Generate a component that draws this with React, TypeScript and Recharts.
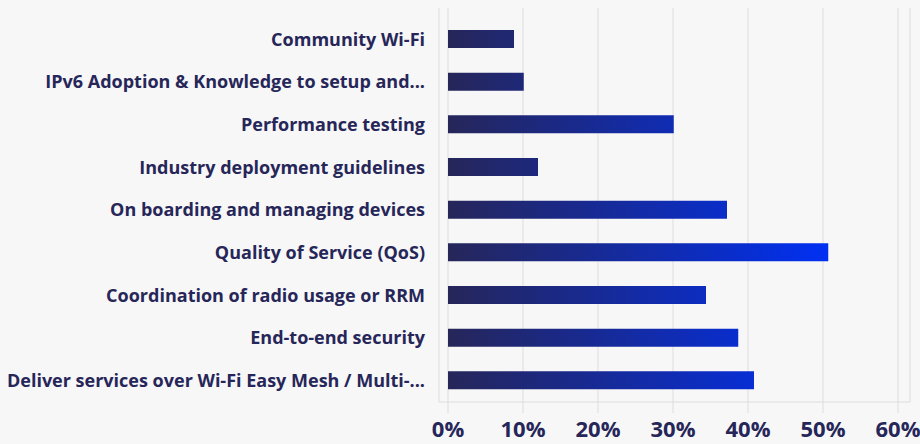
import { BarChart, Bar, XAxis, YAxis, CartesianGrid } from "recharts";

const categories = [
  "Community Wi-Fi",
  "IPv6 Adoption & Knowledge to setup and...",
  "Performance testing",
  "Industry deployment guidelines",
  "On boarding and managing devices",
  "Quality of Service (QoS)",
  "Coordination of radio usage or RRM",
  "End-to-end security",
  "Deliver services over Wi-Fi Easy Mesh / Multi-...",
];
const shares = [8.8, 10.1, 30.1, 12.0, 37.2, 50.7, 34.4, 38.7, 40.8];
const xTicks = [0, 10, 20, 30, 40, 50, 60];

const data = categories.map((name, i) => ({ name, value: shares[i] }));

const INK = "#262659";
const GRID = "#dddddd";
const FONT = "'Open Sans', sans-serif";

export default function App() {
  return (
    <div style={{ position: "fixed", top: 0, left: 0, width: 920, height: 444, background: "#f7f7f7" }}>
      <BarChart
        width={920}
        height={444}
        data={data}
        layout="vertical"
        margin={{ top: 8, right: 10, left: 0, bottom: 0 }}
      >
        <defs>
          <linearGradient id="barFill" gradientUnits="userSpaceOnUse" x1={448} y1={0} x2={828} y2={0}>
            <stop offset="0%" stopColor="#262659" />
            <stop offset="100%" stopColor="#0030f2" />
          </linearGradient>
        </defs>
        <CartesianGrid horizontal={false} stroke={GRID} />
        <XAxis
          type="number"
          domain={[0, 60]}
          ticks={xTicks}
          tickFormatter={(v) => `${v}%`}
          padding={{ left: 9, right: 12 }}
          height={42}
          stroke={GRID}
          tickSize={11}
          tickMargin={8}
          tick={{ fontSize: 22, fontWeight: 700, fill: INK, fontFamily: FONT }}
        />
        <YAxis
          type="category"
          dataKey="name"
          width={439}
          padding={{ top: 10, bottom: 0 }}
          axisLine={false}
          tickLine={false}
          tickSize={0}
          tickMargin={14}
          interval={0}
          tick={{ fontSize: 18, fontWeight: 700, fill: INK, fontFamily: FONT }}
        />
        <Bar dataKey="value" fill="url(#barFill)" barSize={18} isAnimationActive={false} />
      </BarChart>
    </div>
  );
}
